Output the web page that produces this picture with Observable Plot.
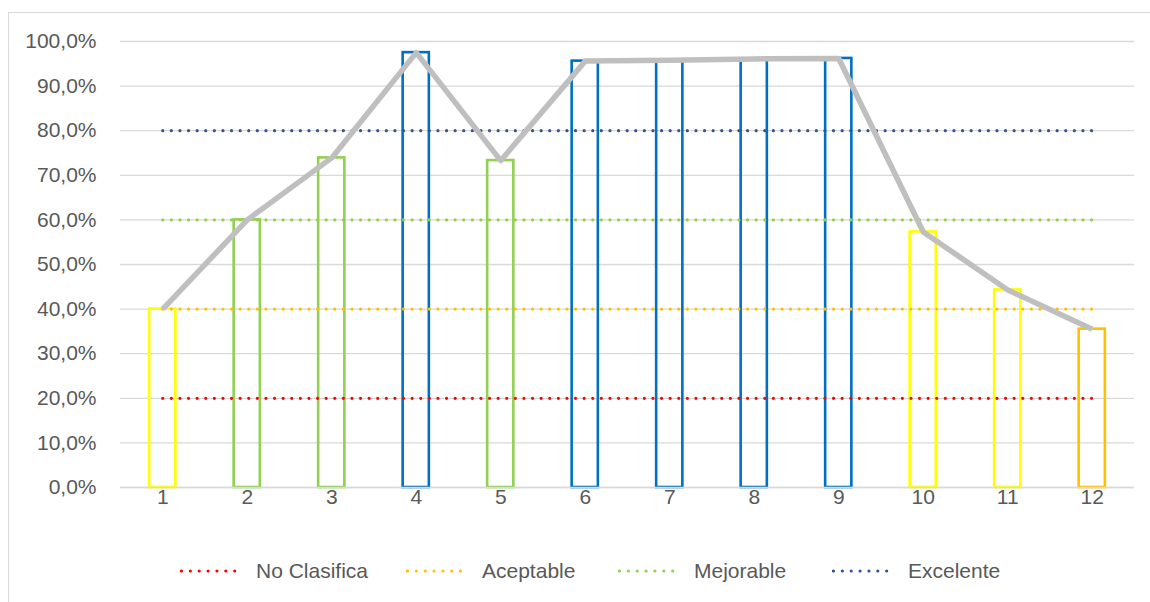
<!DOCTYPE html>
<html>
<head>
<meta charset="utf-8">
<script src="https://cdn.jsdelivr.net/npm/d3@7"></script>
<script src="https://cdn.jsdelivr.net/npm/@observablehq/plot@0.6"></script>
<style>
  html, body { margin: 0; padding: 0; background: #fff; }
  body { width: 1150px; height: 602px; position: relative; overflow: hidden; font-family: "Liberation Sans", Arial, sans-serif; }
  #frame { position: absolute; left: 8px; top: 12px; width: 1160px; height: 600px; border: 1px solid #d9d9d9; box-sizing: border-box; }
  #chart { position: absolute; left: 0; top: 0; }
  #legend { position: absolute; left: 0; top: 556px; width: 1150px; height: 30px; }
  .item { position: absolute; top: 0; height: 30px; display: flex; align-items: center; font-size: 21px; color: #595959; }
  .item svg { margin-right: 12px; }
</style>
</head>
<body>
<div id="frame"></div>
<div id="chart"></div>
<div id="legend"></div>
<script>
const categories = [1, 2, 3, 4, 5, 6, 7, 8, 9, 10, 11, 12];
const values = [0.400, 0.600, 0.739, 0.975, 0.733, 0.956, 0.958, 0.961, 0.962, 0.573, 0.443, 0.355];
const barColors = ["#FFFF00", "#92D050", "#92D050", "#0070C0", "#92D050", "#0070C0", "#0070C0", "#0070C0", "#0070C0", "#FFFF00", "#FFFF00", "#FFC000"];
const thresholdNames = ["No Clasifica", "Aceptable", "Mejorable", "Excelente"];
const thresholdValues = [0.2, 0.4, 0.6, 0.8];
const thresholdColors = ["#FF0000", "#FFC000", "#92D050", "#2F5597"];
const yTicks = [0, 0.1, 0.2, 0.3, 0.4, 0.5, 0.6, 0.7, 0.8, 0.9, 1.0];

const bars = categories.map((c, i) => ({cat: c, val: values[i], color: barColors[i]}));
const thresholdPts = [];
thresholdNames.forEach((n, i) => {
  thresholdPts.push({name: n, cat: categories[0], y: thresholdValues[i], color: thresholdColors[i]});
  thresholdPts.push({name: n, cat: categories[categories.length - 1], y: thresholdValues[i], color: thresholdColors[i]});
});
const fmt = d => d3.format(".1%")(d).replace(".", ",");

const chart = Plot.plot({
  width: 1150,
  height: 530,
  marginLeft: 120,
  marginRight: 16,
  marginTop: 41,
  marginBottom: 43,
  style: {fontFamily: "'Liberation Sans', Arial, sans-serif", fontSize: "21px", color: "#595959", background: "transparent", overflow: "visible"},
  x: {domain: categories, paddingInner: 0.69, paddingOuter: 0.345, round: false, label: null, tickSize: 0, tickPadding: 2},
  y: {domain: [0, 1], ticks: yTicks, tickFormat: fmt, label: null, tickSize: 0, tickPadding: 24},
  color: {type: "identity"},
  marks: [
    Plot.gridY(yTicks, {stroke: "#d9d9d9", strokeOpacity: 1, strokeWidth: 1.3}),
    Plot.barY(bars, {x: "cat", y: "val", fill: "none", stroke: "color", strokeWidth: 2.6}),
    Plot.ruleY([0], {stroke: "#d9d9d9", strokeWidth: 1.3}),
    Plot.line(thresholdPts, {x: "cat", y: "y", z: "name", stroke: "color", strokeWidth: 3.2, strokeDasharray: "0 8.6", strokeLinecap: "round"}),
    Plot.line(bars, {x: "cat", y: "val", stroke: "#BFBFBF", strokeWidth: 5.5, strokeLinejoin: "round", strokeLinecap: "butt"})
  ]
});
document.getElementById("chart").appendChild(chart);

const legendX = [180, 406, 618, 832];
const legend = document.getElementById("legend");
thresholdNames.forEach((n, i) => {
  const item = document.createElement("div");
  item.className = "item";
  item.style.left = legendX[i] + "px";
  const ns = "http://www.w3.org/2000/svg";
  const svg = document.createElementNS(ns, "svg");
  svg.setAttribute("width", 64);
  svg.setAttribute("height", 10);
  const line = document.createElementNS(ns, "line");
  line.setAttribute("x1", 1.5); line.setAttribute("x2", 63.5);
  line.setAttribute("y1", 5); line.setAttribute("y2", 5);
  line.setAttribute("stroke", thresholdColors[i]);
  line.setAttribute("stroke-width", 3.2);
  line.setAttribute("stroke-linecap", "round");
  line.setAttribute("stroke-dasharray", "0 8.86");
  svg.appendChild(line);
  item.appendChild(svg);
  const span = document.createElement("span");
  span.textContent = n;
  item.appendChild(span);
  legend.appendChild(item);
});
</script>
</body>
</html>
